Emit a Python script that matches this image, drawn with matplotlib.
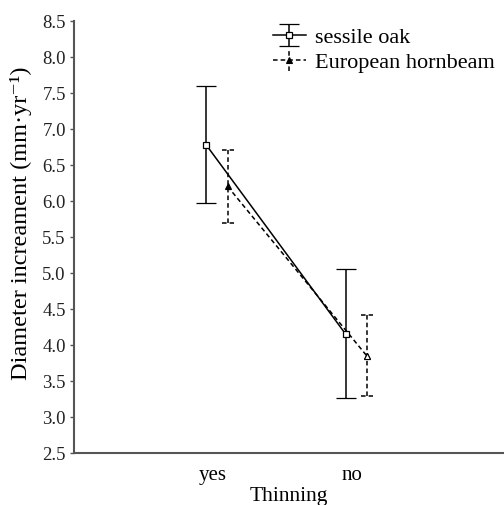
import matplotlib
matplotlib.use("Agg")
import matplotlib.pyplot as plt
import numpy as np

plt.rcParams['font.family'] = ['Liberation Serif', 'DejaVu Serif']

categories = ["yes", "no"]
oak_mean = [6.78, 4.15]
oak_low = [5.97, 3.26]
oak_high = [7.60, 5.05]
hb_mean = [6.20, 3.84]
hb_low = [5.69, 3.29]
hb_high = [6.71, 4.41]
hb_filled = [True, False]

x = np.arange(len(categories))
oak_x = x - 0.045
hb_x = x + 0.11

fig = plt.figure(figsize=(5.04, 5.06), dpi=100)
ax = fig.add_axes([0.147, 0.103, 0.853, 0.854])

oak_err = [np.array(oak_mean) - np.array(oak_low), np.array(oak_high) - np.array(oak_mean)]
hb_err = [np.array(hb_mean) - np.array(hb_low), np.array(hb_high) - np.array(hb_mean)]

eb1 = ax.errorbar(oak_x, oak_mean, yerr=oak_err, color='black', ls='-', lw=1.1,
                  marker='s', ms=5, mfc='white', mec='black', mew=0.9,
                  capsize=7, capthick=1.1, elinewidth=1.1, label='sessile oak', zorder=3)

eb2 = ax.errorbar(hb_x, hb_mean, yerr=hb_err, color='black', ls=(0, (3, 2)), lw=1.1,
                  marker='^', ms=5, mfc='black', mec='black', mew=0.8,
                  capsize=6, capthick=1.1, elinewidth=1.1, label='European hornbeam', zorder=2)
for lc in eb2[2]:
    lc.set_linestyle((0, (3, 2)))
for cap in eb2[1]:
    cap.set_visible(False)
ax.hlines(hb_low + hb_high, list(hb_x - 0.043) * 2, list(hb_x + 0.043) * 2,
          colors='black', linestyles=(0, (3, 2)), lw=1.1, zorder=2)
for xi, yi, f in zip(hb_x, hb_mean, hb_filled):
    if not f:
        ax.plot([xi], [yi], marker='^', ms=5, mfc='white', mec='black', mew=0.8, ls='none', zorder=4)

ax.set_xlim(-0.99, 2.09)
ax.set_ylim(2.5, 8.5)
yt = np.arange(2.5, 8.51, 0.5)
ax.set_yticks(yt)
ax.set_yticklabels([f"{v:.1f}" for v in yt])
ax.set_xticks(x)
ax.set_xticklabels(categories)
ax.tick_params(axis='x', length=0, labelsize=15, pad=9)
ax.tick_params(axis='y', length=3, width=1, labelsize=13.5, color='#555555',
               labelcolor='#222222', direction='out', pad=3)

for s in ['top', 'right']:
    ax.spines[s].set_visible(False)
for s in ['left', 'bottom']:
    ax.spines[s].set_color('#555555')
    ax.spines[s].set_linewidth(1.5)

ax.set_ylabel("Diameter increament (mm·yr\u207b\u00b9)", fontsize=17.5)
ax.yaxis.set_label_coords(-0.097, 0.533)
ax.set_xlabel("Thinning", fontsize=15.5, labelpad=1)

ax.legend(loc='upper left', bbox_to_anchor=(0.415, 1.032), frameon=False, fontsize=16,
          handlelength=1.5, handletextpad=0.4, labelspacing=0.2)

fig.savefig("out.png", dpi=100)
